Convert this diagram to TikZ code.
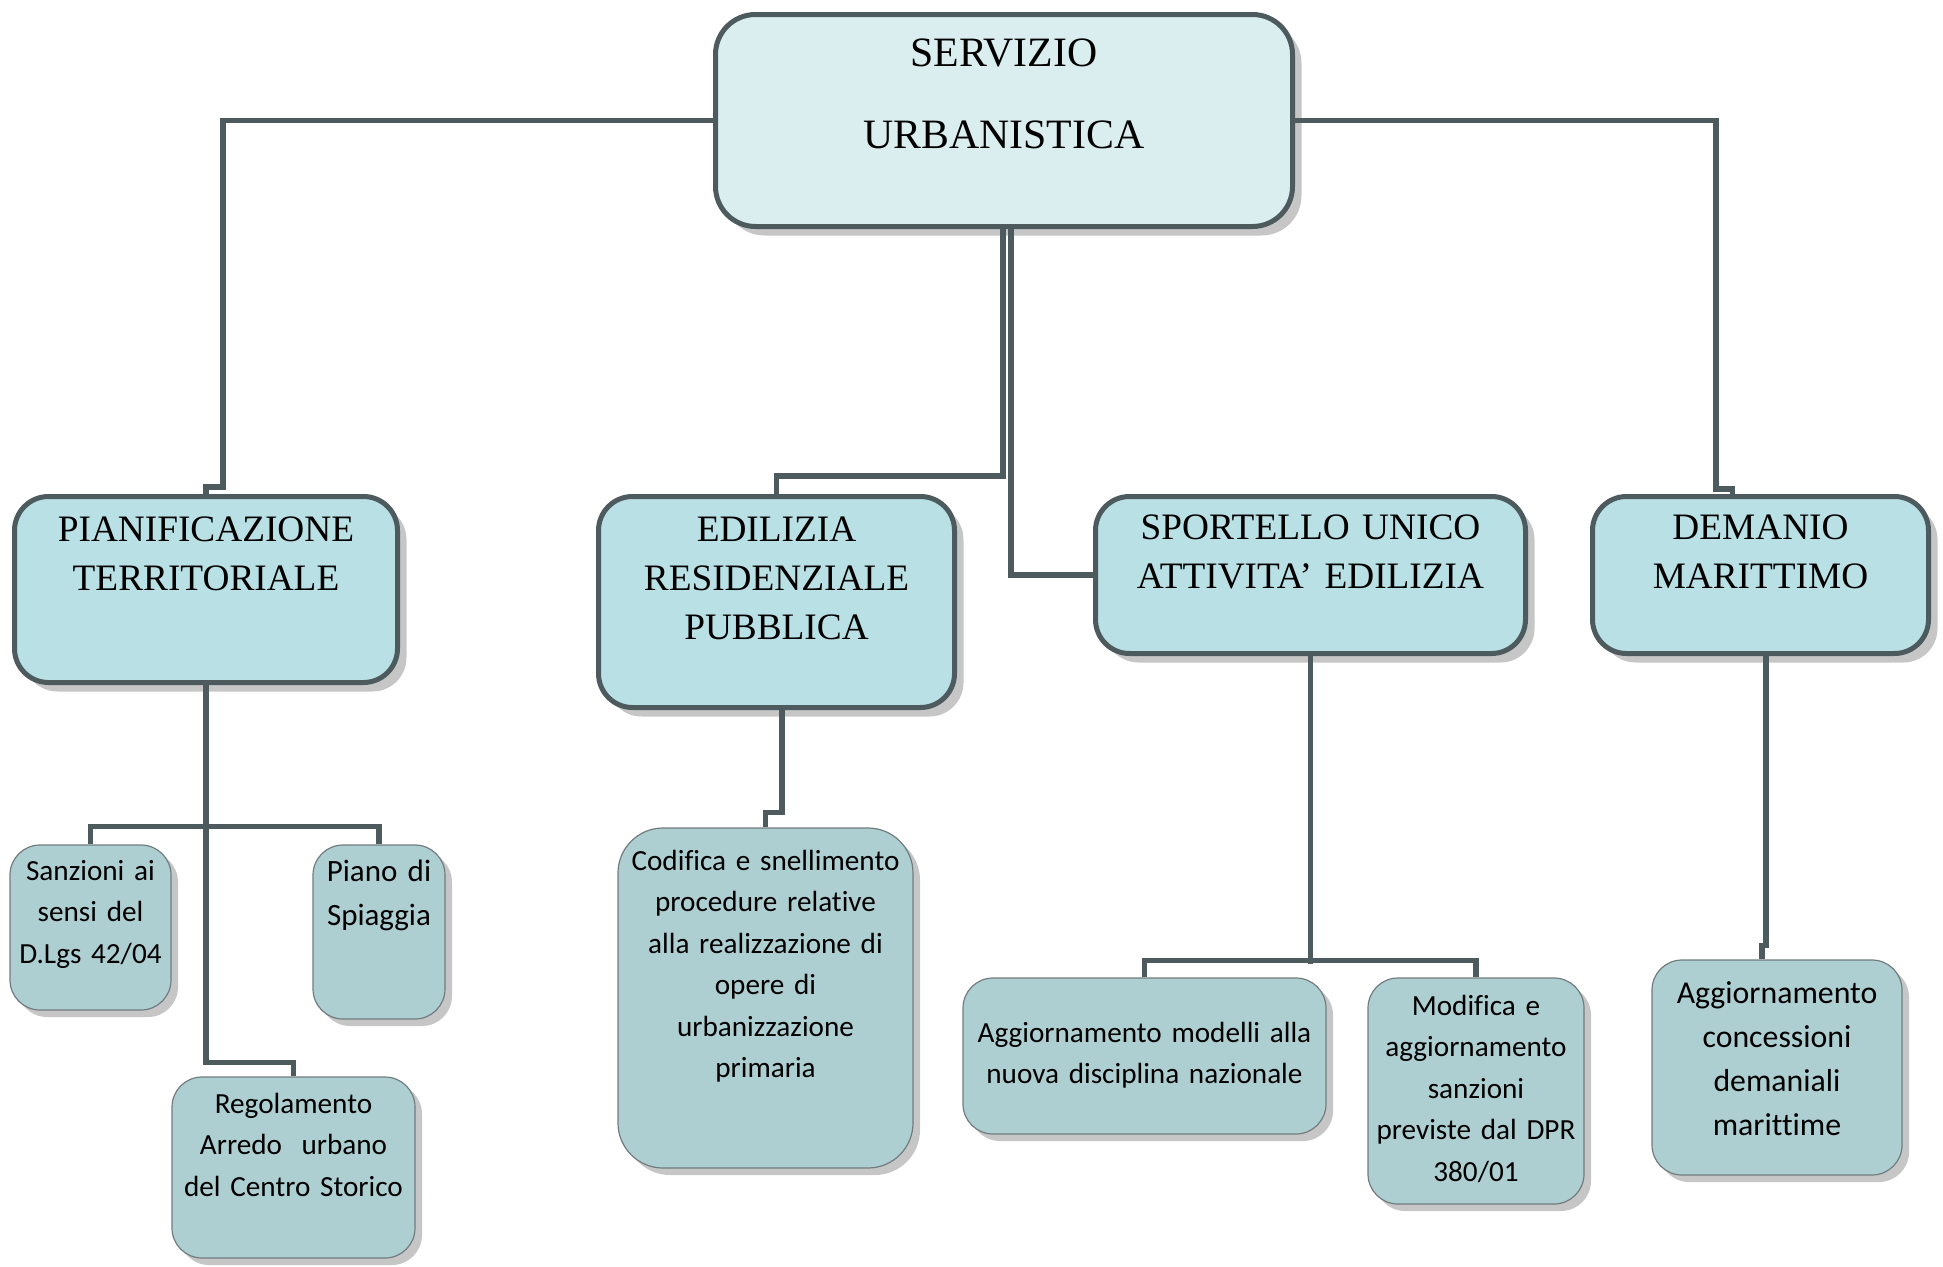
\documentclass[tikz,border=0pt]{standalone}
\usepackage{fontspec}
\setmainfont{Liberation Serif}
\newfontfamily\calibri[Ligatures=NoCommon]{Carlito}
\usetikzlibrary{positioning, shadows}

\definecolor{lineacol}{HTML}{4D5B5E}
\definecolor{capofill}{HTML}{DAEEF0}
\definecolor{settfill}{HTML}{B9E0E4}
\definecolor{compfill}{HTML}{AECFD2}

\tikzset{
  capo/.style={draw=lineacol, line width=5pt, fill=capofill, rounded corners=40pt,
    inner sep=0pt, align=center,
    drop shadow={shadow xshift=9pt, shadow yshift=-9pt, fill=gray!45, opacity=1},
    font=\fontsize{41.8}{82}\selectfont},
  settore/.style={capo, fill=settfill, rounded corners=34pt,
    font=\fontsize{37.3}{49}\selectfont},
  compito/.style={draw=lineacol!80, line width=1.2pt, fill=compfill, rounded corners=30pt,
    inner sep=0pt, align=center,
    drop shadow={shadow xshift=7pt, shadow yshift=-7pt, fill=gray!45, opacity=1},
    font=\calibri\fontsize{29.2}{41.5}\selectfont},
  ramo/.style={draw=lineacol, line width=5.5pt},
}

\begin{document}
\begin{tikzpicture}[x=1pt, y=-1pt, on grid]
    \useasboundingbox (0,0) rectangle (1943,1266);
        \node[capo, text width=577pt, text height=51.5pt, text depth=160.5pt] (root) at (1004,120.5) {SERVIZIO\\URBANISTICA};
        \node[settore, text width=383pt, text height=45pt, text depth=141pt] (pian) [below left=469pt and 798pt of root] {PIANIFICAZIONE\\TERRITORIALE};
        \node[settore, text width=356pt, text height=44.5pt, text depth=166.5pt] (edil) [below left=481.5pt and 227.5pt of root] {EDILIZIA\\RESIDENZIALE\\PUBBLICA};
        \node[settore, text width=430pt, text height=42.5pt, text depth=114.5pt] (sport) [below right=454.5pt and 306.5pt of root] {SPORTELLO UNICO\\ATTIVITA’ EDILIZIA};
        \node[settore, text width=336pt, text height=42.5pt, text depth=114.5pt] (dem) [below right=454.5pt and 756.5pt of root] {DEMANIO\\MARITTIMO};
        \node[compito, text width=161pt, text height=35pt, text depth=130pt] (sanz) [below left=338pt and 115.5pt of pian] {Sanzioni ai\\sensi del\\D.Lgs 42/04};
        \node[compito, text width=132pt, text height=36pt, text depth=138pt, font=\calibri\fontsize{31}{44}\selectfont] (piano) [below right=342.5pt and 173pt of pian] {Piano di\\Spiaggia};
        \node[compito, text width=243pt, text height=36pt, text depth=145pt] (regol) [below right=578pt and 87.5pt of pian] {Regolamento\\Arredo\ \ urbano\\del Centro Storico};
        \node[compito, text width=295pt, text height=42pt, text depth=298pt, rounded corners=45pt] (codif) [below left=396pt and 11pt of edil] {Codifica e snellimento\\procedure relative\\alla realizzazione di\\opere di\\urbanizzazione\\primaria};
        \node[compito, text width=363pt, text height=64pt, text depth=92pt] (aggmod) [below left=481pt and 166pt of sport] {Aggiornamento modelli alla\\nuova disciplina nazionale};
        \node[compito, text width=216pt, text height=37pt, text depth=189pt] (modif) [below right=516pt and 165.5pt of sport] {Modifica e\\aggiornamento\\sanzioni\\previste dal DPR\\380/01};
        \node[compito, text width=250pt, text height=43pt, text depth=172pt, font=\calibri\fontsize{31.8}{44.3}\selectfont] (aggconc) [below right=492.5pt and 16.5pt of dem] {Aggiornamento\\concessioni\\demaniali\\marittime};

        \draw[ramo] (root.west) -| (223,487) -| (pian.north);
        \draw[ramo] (root.east) -| (1716,489) -| ([xshift=-28pt]dem.north);
        \draw[ramo] ([xshift=-1pt]root.south) |- (777,476) -| (edil.north);
        \draw[ramo] ([xshift=7pt]root.south) |- (sport.west);
        \draw[ramo] (pian.south) -- ++(0,377.5) -| (regol.north);
        \draw[ramo] (sanz.north) -- ++(0,-18) -| (piano.north);
        \draw[ramo] ([xshift=5.5pt]edil.south) -- ++(0,102.5) -| (codif.north);
        \draw[ramo] (sport.south) -- ++(0,308);
        \draw[ramo] (aggmod.north) -- ++(0,-17) -| (modif.north);
        \draw[ramo] ([xshift=5.5pt]dem.south) -- ++(0,289.5) -| ([xshift=-15pt]aggconc.north);
    \end{tikzpicture}
\end{document}
